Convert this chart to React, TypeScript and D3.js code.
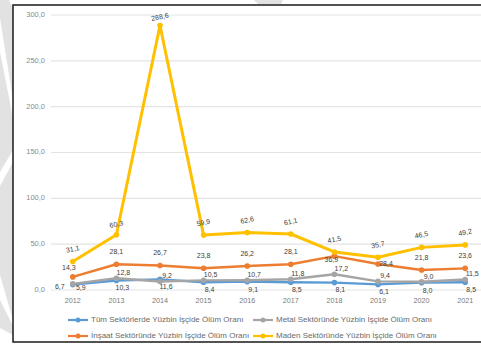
import React from "react";
import * as d3 from "d3";

// Fatal accident rates per 100,000 workers, 2012–2021
const years = ["2012", "2013", "2014", "2015", "2016", "2017", "2018", "2019", "2020", "2021"];
const tumSektorler = [5.9, 10.3, 11.6, 8.4, 9.1, 8.5, 8.1, 6.1, 8.0, 8.5];
const insaat = [14.3, 28.1, 26.7, 23.8, 26.2, 28.1, 36.9, 28.4, 21.8, 23.6];
const metal = [6.7, 12.8, 9.2, 10.5, 10.7, 11.8, 17.2, 9.4, 9.0, 11.5];
const maden = [31.1, 60.3, 288.6, 59.9, 62.6, 61.1, 41.5, 35.7, 46.5, 49.2];
const yTicks = [0, 50, 100, 150, 200, 250, 300];

const seriesNames = [
  "Tüm Sektörlerde Yüzbin İşçide Ölüm Oranı",
  "İnşaat Sektöründe Yüzbin İşçide Ölüm Oranı",
  "Metal Sektöründe Yüzbin İşçide Ölüm Oranı",
  "Maden Sektöründe Yüzbin İşçide Ölüm Oranı",
];

type Style = {
  color: string;
  width: number;
  dx: number;
  dy: number;
  rotate: number;
  overrides: Record<number, [number, number]>;
  legend: [number, number];
};

const styles: Style[] = [
  { color: "#5B9BD5", width: 2.4, dx: 6, dy: 8, rotate: 0, overrides: { 0: [8, 4] }, legend: [68, 320] },
  { color: "#ED7D31", width: 2.4, dx: 0, dy: -12, rotate: 0, overrides: { 0: [-4, -9], 6: [-3, 4], 7: [8, 0] }, legend: [68, 336] },
  { color: "#A5A5A5", width: 2.4, dx: 7, dy: -5, rotate: 0, overrides: { 0: [-13, 3] }, legend: [253, 320] },
  { color: "#FFC000", width: 3, dx: 0, dy: -12, rotate: -12, overrides: { 2: [0, -8], 1: [0, -10] }, legend: [253, 336] },
];

const allSeries = [tumSektorler, insaat, metal, maden];

const fmt = (v: number) => v.toFixed(1).replace(".", ",");

export default function App() {
  const W = 481;
  const H = 352;
  const x = d3.scalePoint<string>().domain(years).range([51, 487]).padding(0.5);
  const y = d3.scaleLinear().domain([0, 300]).range([290, 15]);
  const line = d3
    .line<number>()
    .x((_, i) => x(years[i]) as number)
    .y((d) => y(d));

  const font = "'Liberation Sans', Arial, sans-serif";

  return (
    <svg
      width={W}
      height={H}
      viewBox={`0 0 ${W} ${H}`}
      style={{ position: "absolute", left: 0, top: 0, background: "#fff" }}
      fontFamily={font}
    >
      {/* faint page watermark outside the frame */}
      <g fill="#e2e2e2">
        <path d="M0,0 L9,0 L13,8 L13,100 L0,18 Z" />
        <path d="M0,52 L13,118 L13,150 L0,172 Z" />
        <path d="M0,186 L13,162 L13,320 L0,275 Z" />
        <path d="M0,300 L13,326 L13,335 L0,328 Z" />
        <path d="M254,0 L283,0 L281,4 L258,4 Z" />
      </g>

      {/* chart frame */}
      <rect x={13} y={5} width={480} height={337} fill="#fff" stroke="#1a1a1a" strokeWidth={1.5} />

      {/* gridlines and y axis labels */}
      {yTicks.map((t) => (
        <g key={t}>
          <line x1={51} x2={487} y1={y(t)} y2={y(t)} stroke="#e3e3e3" strokeWidth={1.2} />
          <text
            x={45}
            y={y(t)}
            textAnchor="end"
            dominantBaseline="middle"
            fontSize={7.5}
            fill="#8a8a8a"
          >
            {fmt(t)}
          </text>
        </g>
      ))}

      {/* x axis labels */}
      {years.map((yr) => (
        <text
          key={yr}
          x={x(yr)}
          y={301}
          textAnchor="middle"
          dominantBaseline="middle"
          fontSize={7.2}
          fill="#7a7a7a"
        >
          {yr}
        </text>
      ))}

      {/* series lines and markers */}
      {allSeries.map((vals, si) => (
        <g key={si}>
          <path
            d={line(vals) || ""}
            fill="none"
            stroke={styles[si].color}
            strokeWidth={styles[si].width}
            strokeLinejoin="round"
          />
          {vals.map((v, i) => (
            <circle key={i} cx={x(years[i])} cy={y(v)} r={2.8} fill={styles[si].color} />
          ))}
        </g>
      ))}

      {/* data labels */}
      {allSeries.map((vals, si) => (
        <g key={si}>
          {vals.map((v, i) => {
            const st = styles[si];
            const [dx, dy] = st.overrides[i] ?? [st.dx, st.dy];
            const cx = (x(years[i]) as number) + dx;
            const cy = y(v) + dy;
            return (
              <text
                key={i}
                x={cx}
                y={cy}
                textAnchor="middle"
                dominantBaseline="middle"
                fontSize={7}
                fill="#404040"
                transform={st.rotate ? `rotate(${st.rotate},${cx},${cy})` : undefined}
              >
                {fmt(v)}
              </text>
            );
          })}
        </g>
      ))}

      {/* legend */}
      {styles.map((st, si) => (
        <g key={si}>
          <line
            x1={st.legend[0]}
            x2={st.legend[0] + 20}
            y1={st.legend[1]}
            y2={st.legend[1]}
            stroke={st.color}
            strokeWidth={2.2}
          />
          <circle cx={st.legend[0] + 10} cy={st.legend[1]} r={2.5} fill={st.color} />
          <text
            x={st.legend[0] + 23}
            y={st.legend[1]}
            dominantBaseline="middle"
            fontSize={8}
            fill="#6a6a6a"
          >
            {seriesNames[si]}
          </text>
        </g>
      ))}
    </svg>
  );
}
